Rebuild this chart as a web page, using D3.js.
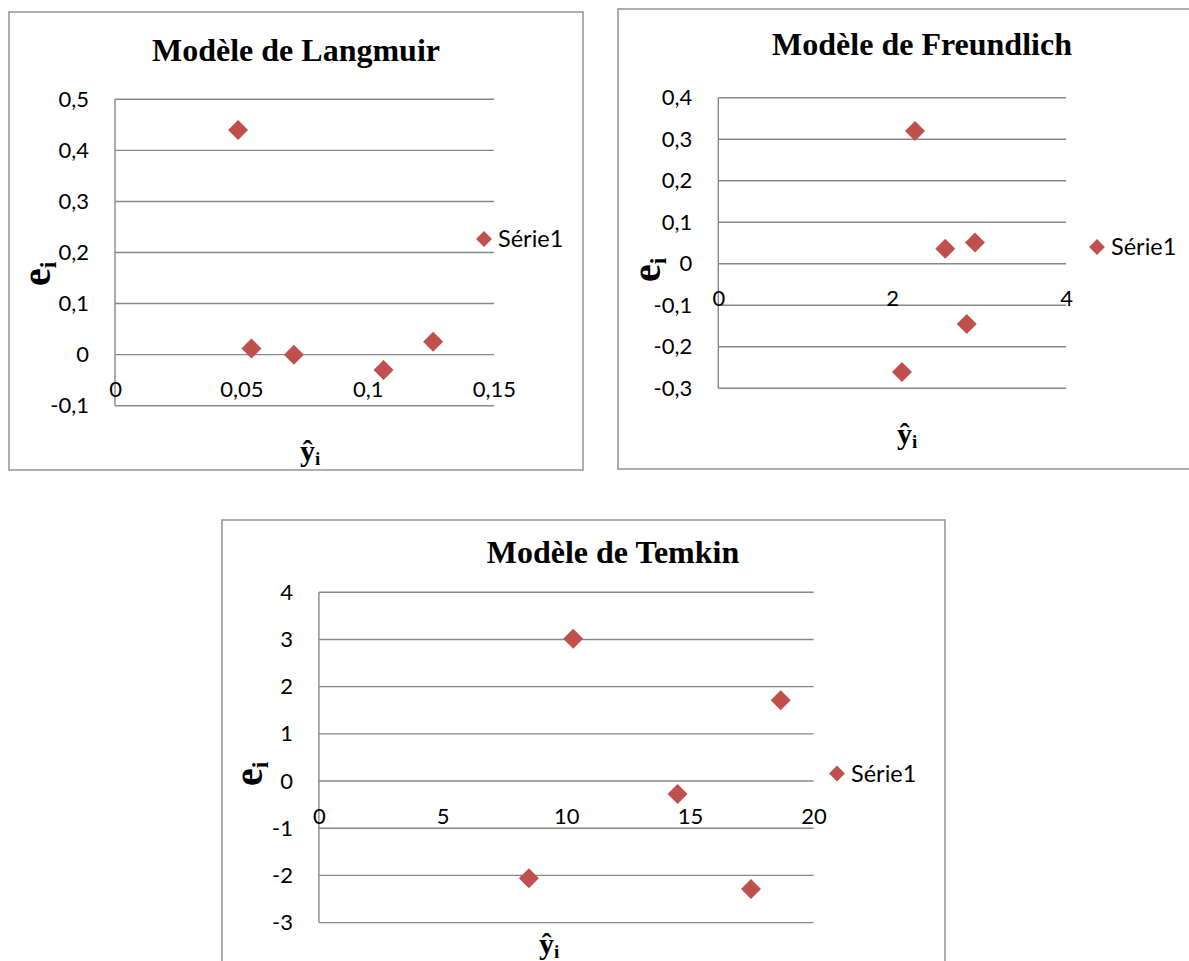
<!DOCTYPE html>
<html>
<head>
<meta charset="utf-8">
<script src="https://cdn.jsdelivr.net/npm/d3@7/dist/d3.min.js"></script>
<style>
  html, body { margin: 0; padding: 0; background: #fff; }
  svg { display: block; }
</style>
</head>
<body>
<svg id="chart" width="1189" height="961"></svg>
<script>
// ---------- Data ----------
const seriesName = "Série1";
const yLabel = "e";
const xLabel = "ŷ";
const subLabel = "i";

const langmuirTitle = "Modèle de Langmuir";
const langmuirX = [0.0487, 0.054, 0.0708, 0.1063, 0.1259];
const langmuirY = [0.44, 0.012, 0.0, -0.030, 0.025];
const langmuirXTicks = [0, 0.05, 0.1, 0.15];
const langmuirYTicks = [-0.1, 0, 0.1, 0.2, 0.3, 0.4, 0.5];

const freundlichTitle = "Modèle de Freundlich";
const freundlichX = [2.263, 2.611, 2.953, 2.858, 2.113];
const freundlichY = [0.32, 0.036, 0.051, -0.145, -0.261];
const freundlichXTicks = [0, 2, 4];
const freundlichYTicks = [-0.3, -0.2, -0.1, 0, 0.1, 0.2, 0.3, 0.4];

const temkinTitle = "Modèle de Temkin";
const temkinX = [10.28, 18.67, 14.5, 8.49, 17.47];
const temkinY = [3.015, 1.71, -0.275, -2.06, -2.29];
const temkinXTicks = [0, 5, 10, 15, 20];
const temkinYTicks = [-3, -2, -1, 0, 1, 2, 3, 4];

// ---------- Layout ----------
const charts = [
  { title: langmuirTitle, xs: langmuirX, ys: langmuirY, xTicks: langmuirXTicks, yTicks: langmuirYTicks,
    frame: [9, 12, 574, 458], plot: [115, 494, 99.3, 405.7], titlePos: [296, 61],
    legend: [484, 239], eLab: [50, 286], yhat: [300, 461] },
  { title: freundlichTitle, xs: freundlichX, ys: freundlichY, xTicks: freundlichXTicks, yTicks: freundlichYTicks,
    frame: [618, 9, 600, 460], plot: [718.3, 1066, 97.7, 388.3], titlePos: [922, 55],
    legend: [1097, 247], eLab: [660, 282], yhat: [897, 444] },
  { title: temkinTitle, xs: temkinX, ys: temkinY, xTicks: temkinXTicks, yTicks: temkinYTicks,
    frame: [222, 520, 723, 460], plot: [318.9, 813.6, 592.3, 922.6], titlePos: [613, 563],
    legend: [837, 773.5], eLab: [262, 786], yhat: [539, 954] }
];

const fmt = v => String(+v.toFixed(4)).replace(".", ",");

const RED = "#C0504D";
const GRID = "#878787";
const TICKFONT = "Lato, 'Open Sans', sans-serif";
const SERIF = "'Liberation Serif', 'Times New Roman', serif";
const svg = d3.select("#chart");
const diamond = d3.symbol().type(d3.symbolSquare).size(200)();
const diamondSmall = d3.symbol().type(d3.symbolSquare).size(125)();

charts.forEach(c => {
  const g = svg.append("g");
  const [fx, fy, fw, fh] = c.frame;
  g.append("rect").attr("x", fx).attr("y", fy).attr("width", fw).attr("height", fh)
    .attr("fill", "#fff").attr("stroke", "#8a8a8a").attr("stroke-width", 1.4);

  const x = d3.scaleLinear().domain(d3.extent(c.xTicks)).range([c.plot[0], c.plot[1]]);
  const y = d3.scaleLinear().domain(d3.extent(c.yTicks)).range([c.plot[3], c.plot[2]]);

  // gridlines
  g.append("g").selectAll("line").data(c.yTicks).join("line")
    .attr("x1", x.range()[0]).attr("x2", x.range()[1])
    .attr("y1", d => y(d)).attr("y2", d => y(d))
    .attr("stroke", GRID).attr("stroke-width", 1.4);

  // y axis vertical line
  g.append("line").attr("x1", x.range()[0]).attr("x2", x.range()[0])
    .attr("y1", y.range()[0]).attr("y2", y.range()[1])
    .attr("stroke", GRID).attr("stroke-width", 1.4);

  // y axis labels
  const ya = g.append("g").attr("transform", `translate(${x.range()[0]},0)`)
    .call(d3.axisLeft(y).tickValues(c.yTicks).tickSize(0).tickPadding(26).tickFormat(fmt));
  ya.select(".domain").remove();
  ya.selectAll("text").attr("font-family", TICKFONT).attr("font-size", 22).attr("fill", "#000");

  // x axis at y=0 with labels below
  const xa = g.append("g").attr("transform", `translate(0,${y(0)})`)
    .call(d3.axisBottom(x).tickValues(c.xTicks).tickSize(0).tickPadding(27).tickFormat(fmt));
  xa.select(".domain").remove();
  xa.selectAll("text").attr("font-family", TICKFONT).attr("font-size", 22).attr("fill", "#000");

  // points
  g.append("g").selectAll("path").data(c.xs.map((v, i) => [v, c.ys[i]])).join("path")
    .attr("d", diamond)
    .attr("transform", d => `translate(${x(d[0])},${y(d[1])}) rotate(45)`)
    .attr("fill", RED);

  // title
  g.append("text").attr("x", c.titlePos[0]).attr("y", c.titlePos[1])
    .attr("text-anchor", "middle")
    .attr("font-family", SERIF)
    .attr("font-weight", "bold").attr("font-size", 32).text(c.title);

  // legend
  g.append("path").attr("d", diamondSmall)
    .attr("transform", `translate(${c.legend[0]},${c.legend[1]}) rotate(45)`).attr("fill", RED);
  g.append("text").attr("x", c.legend[0] + 14).attr("y", c.legend[1])
    .attr("dy", "0.35em")
    .attr("font-family", TICKFONT).attr("font-size", 23.5).text(seriesName);

  // y-axis title e_i (rotated)
  const et = g.append("text")
    .attr("transform", `translate(${c.eLab[0]},${c.eLab[1]}) rotate(-90)`)
    .attr("font-family", SERIF)
    .attr("font-weight", "bold").attr("font-size", 40);
  et.append("tspan").text(yLabel);
  et.append("tspan").attr("font-size", 24).attr("dy", 6).text(subLabel);

  // x-axis title ŷ_i
  const xt = g.append("text").attr("x", c.yhat[0]).attr("y", c.yhat[1])
    .attr("font-family", SERIF)
    .attr("font-weight", "bold").attr("font-size", 30);
  xt.append("tspan").text(xLabel);
  xt.append("tspan").attr("font-size", 19).attr("dy", 4).text(subLabel);
});
</script>
</body>
</html>
